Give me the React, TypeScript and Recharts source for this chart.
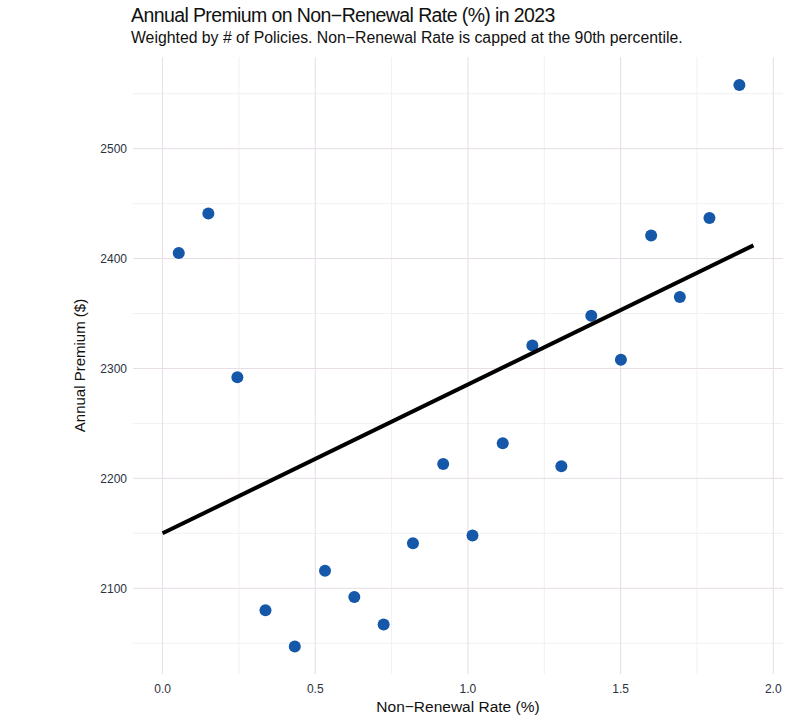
import React from 'react';
import {
  ScatterChart,
  Scatter,
  XAxis,
  YAxis,
  ReferenceLine,
} from 'recharts';

// Binned non-renewal rate (%) vs. weighted mean annual premium ($)
const RATE = [
  0.053, 0.15, 0.245, 0.337, 0.433, 0.532, 0.628, 0.724, 0.82, 0.919,
  1.015, 1.114, 1.211, 1.306, 1.404, 1.501, 1.6, 1.694, 1.791, 1.889,
];
const PREMIUM = [
  2405, 2441, 2292, 2080, 2047, 2116, 2092, 2067, 2141, 2213,
  2148, 2232, 2321, 2211, 2348, 2308, 2421, 2365, 2437, 2558,
];

// Weighted linear fit, evaluated at both ends of the rate range
const FIT_RATE = [0, 1.935];
const FIT_PREMIUM = [2150, 2412];

const X_TICKS = [0, 0.5, 1, 1.5, 2];
const Y_TICKS = [2100, 2200, 2300, 2400, 2500];
const X_MINOR = [0.25, 0.75, 1.25, 1.75];
const Y_MINOR = [2050, 2150, 2250, 2350, 2450, 2550];

const points = RATE.map((r, i) => ({ rate: r, premium: PREMIUM[i] }));
const fit = FIT_RATE.map((r, i) => ({ rate: r, premium: FIT_PREMIUM[i] }));

const FONT = '"Liberation Sans", Arial, Helvetica, sans-serif';
const MAJOR = '#e6dde6';
const MINOR = '#f3eff3';
const DOT = '#1557a8';

export default function App() {
  return (
    <div style={{ position: 'absolute', left: 0, top: 0, width: 812, height: 715, background: '#fff', fontFamily: FONT }}>
      <div style={{ position: 'absolute', left: 131, top: 4, fontSize: 19.5, color: '#111', whiteSpace: 'nowrap', letterSpacing: -0.6 }}>
        Annual Premium on Non−Renewal Rate (%) in 2023
      </div>
      <div style={{ position: 'absolute', left: 131, top: 29, fontSize: 15.8, color: '#111', whiteSpace: 'nowrap' }}>
        Weighted by # of Policies. Non−Renewal Rate is capped at the 90th percentile.
      </div>
      <ScatterChart width={812} height={715} margin={{ top: 57, right: 29, bottom: 0, left: 0 }}>
        {/* ggplot-style panel grid: faint minor lines, slightly stronger major lines */}
        {X_MINOR.map((v) => (
          <ReferenceLine key={`vx-${v}`} x={v} stroke={MINOR} strokeWidth={1} />
        ))}
        {Y_MINOR.map((v) => (
          <ReferenceLine key={`hy-${v}`} y={v} stroke={MINOR} strokeWidth={1} />
        ))}
        {X_TICKS.map((v) => (
          <ReferenceLine key={`gx-${v}`} x={v} stroke={MAJOR} strokeWidth={1} />
        ))}
        {Y_TICKS.map((v) => (
          <ReferenceLine key={`gy-${v}`} y={v} stroke={MAJOR} strokeWidth={1} />
        ))}
        <XAxis
          type="number"
          dataKey="rate"
          domain={[-0.0968, 2.0318]}
          ticks={X_TICKS}
          tickFormatter={(v: number) => v.toFixed(1)}
          axisLine={false}
          tickLine={false}
          tickSize={0}
          tickMargin={10}
          height={41}
          tick={{ fill: '#2c3240', fontSize: 12, fontFamily: FONT }}
          allowDataOverflow
          label={{ value: 'Non−Renewal Rate (%)', position: 'insideBottom', offset: 3, fill: '#111', fontSize: 15.5, fontFamily: FONT }}
        />
        <YAxis
          type="number"
          dataKey="premium"
          domain={[2022, 2583.4]}
          ticks={Y_TICKS}
          axisLine={false}
          tickLine={false}
          tickSize={0}
          tickMargin={6}
          width={133}
          tick={{ fill: '#2c3240', fontSize: 12, fontFamily: FONT }}
          allowDataOverflow
          label={{ value: 'Annual Premium ($)', angle: -90, position: 'insideLeft', offset: 80, fill: '#111', fontSize: 15, fontFamily: FONT, style: { textAnchor: 'middle' } }}
        />
        <Scatter data={points} fill={DOT} isAnimationActive={false} shape={(p: any) => <circle cx={p.cx} cy={p.cy} r={6} fill={DOT} />} />
        <Scatter
          data={fit}
          isAnimationActive={false}
          line={{ stroke: '#000', strokeWidth: 4 }}
          shape={() => <g />}
        />
      </ScatterChart>
    </div>
  );
}
